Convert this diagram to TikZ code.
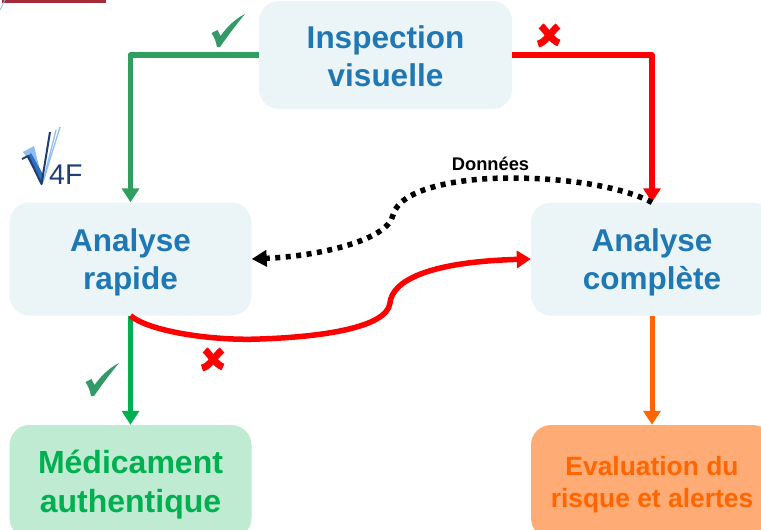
\documentclass[tikz,border=0pt]{standalone}
\usepackage{fontspec}
\setmainfont{Liberation Sans}
\usetikzlibrary{arrows.meta}
\definecolor{boxlight}{HTML}{EBF4F7}
\definecolor{boxgreen}{HTML}{BFEBD2}
\definecolor{boxorange}{HTML}{FFAB76}
\definecolor{txtblue}{HTML}{1F78B4}
\definecolor{txtgreen}{HTML}{00B050}
\definecolor{txtorange}{HTML}{FF6600}
\definecolor{arrgreen}{HTML}{2F9E5F}
\definecolor{chkgreen}{HTML}{339966}
\definecolor{logodark}{HTML}{1F3F73}
\definecolor{logomid}{HTML}{2E6FC0}
\definecolor{logolight}{HTML}{8FBDF2}
\definecolor{smear}{HTML}{A52A3A}
\tikzset{
  flowbox/.style={rounded corners=20pt,inner sep=0pt,align=center,font=\bfseries\fontsize{31.5}{38.5}\selectfont},
  lightbox/.style={flowbox,fill=boxlight,text=txtblue,minimum width=242pt,minimum height=113pt},
  conn/.style={line width=5.5pt,line join=round,-{Triangle[width=17pt,length=14pt]}},
  chk/.pic={\fill[chkgreen] (-7.5,-13) -- (-1.5,-16) -- (1.5,-10) .. controls (8,-19) and (16,-27) .. (26,-32) .. controls (16,-20) and (8,-9) .. (1,1) -- (-2,1) .. controls (-3,-5) and (-5,-9) .. (-7.5,-13) -- cycle;},
  crx/.pic={\draw[red,line width=7pt] (-10,9) .. controls (-3,8) and (3,-3) .. (10,-9);
            \draw[red,line width=7pt] (-7,-9) .. controls (-3,-6) and (4,6) .. (11,8);}
}
\begin{document}
\begin{tikzpicture}[x=1pt,y=-1pt]
\clip (0,0) rectangle (761,530);
\fill[white] (0,0) rectangle (761,530);
% cropped remains at the top edge
\fill[smear] (2,0) rectangle (106,3);
\draw[logolight,line width=0.8pt] (0,10) -- (5,0);
% boxes
\node[lightbox,minimum width=253pt,minimum height=108pt] (insp) at (385.5,55) {\rule{0pt}{25pt}Inspection\\visuelle};
\node[lightbox] (rapide) at (130.5,259) {\rule{0pt}{30pt}Analyse\\rapide};
\node[lightbox] (compl) at (652,259) {\rule{0pt}{30pt}Analyse\\complète};
\node[flowbox,fill=boxgreen,text=txtgreen,minimum width=242pt,minimum height=113pt,font=\bfseries\fontsize{32}{39}\selectfont] (medic) at (130.5,481.5) {\rule{0pt}{30pt}Médicament\\authentique};
\node[flowbox,fill=boxorange,text=txtorange,minimum width=242pt,minimum height=113pt,font=\bfseries\fontsize{26.4}{32.5}\selectfont] (evalu) at (652,481.5) {\rule{0pt}{25pt}Evaluation du\\risque et alertes};
% connectors
\draw[conn,arrgreen] (insp.west) -- (130.5,55) -- (rapide.north);
\draw[conn,red] (insp.east) -- (652,55) -- (compl.north);
\draw[conn,txtgreen] (rapide.south) -- (medic.north);
\draw[conn,txtorange,line width=5pt] (compl.south) -- (evalu.north);
\draw[line width=5.5pt,red,-{Triangle[width=17pt,length=14pt]}] (rapide.south) .. controls (150,332) and (215,341) .. (260,339)
  .. controls (320,337) and (387,328) .. (390,303)
  .. controls (392,282) and (425,262) .. (compl.west);
\draw[line width=5.5pt,black,dash pattern=on 5pt off 5.5pt,-{Triangle[width=16pt,length=15pt]}] (compl.north) .. controls (620,186) and (565,178) .. (510,178)
  .. controls (460,178) and (400,188) .. (393,215)
  .. controls (388,240) and (320,256) .. (rapide.east);
\node[font=\bfseries\fontsize{18.3}{22}\selectfont] (donnees) at (490.5,164) {Données};
% marks
\pic at (219,46) {chk};
\pic at (93,395) {chk};
\pic at (548,35) {crx};
\pic at (212,359) {crx};
% logo
\draw[logolight,line width=1.3pt] (43,182) -- (60,127);
\draw[logolight,line width=1.3pt] (44,178) -- (56,130);
\fill[logolight] (23,152) -- (34,146) -- (42,178) -- cycle;
\fill[logomid] (27,157) -- (31,153) -- (44,176) -- (42,185) -- cycle;
\draw[logodark,line width=2pt,line join=round] (22,159) -- (28,156) -- (41.5,184) -- (50,132);
\node[logodark,font=\fontsize{28.5}{28}\selectfont,inner sep=0pt,anchor=base west] (logotext) at (49,184.5) {4F};
\end{tikzpicture}
\end{document}
